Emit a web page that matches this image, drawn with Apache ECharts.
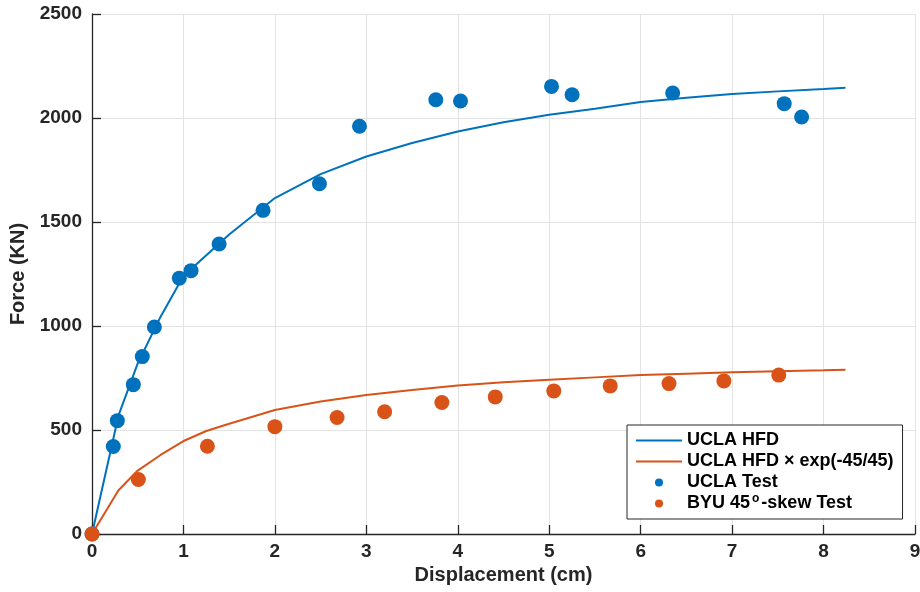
<!DOCTYPE html>
<html>
<head>
<meta charset="utf-8">
<script src="https://cdn.jsdelivr.net/npm/echarts@6/dist/echarts.min.js"></script>
<style>
  html, body { margin: 0; padding: 0; background: #fff; }
  #chart { width: 920px; height: 592px; }
</style>
</head>
<body>
<div id="chart"></div>
<script>
// Hyperbolic force-displacement curves (sampled displacements, cm)
const hfdDisp = [0, 0.29, 0.5, 0.75, 1, 1.25, 1.5, 2, 2.5, 3, 3.5, 4, 4.5, 5, 5.5, 6, 6.5, 7, 7.5, 8, 8.24];
const hfdForce = [0, 570, 820, 1045, 1240, 1340, 1440, 1615, 1730, 1815, 1880, 1935, 1980, 2016, 2045, 2077, 2097, 2115, 2128, 2139, 2145];
const hfdSkewForce = [0, 210, 305, 380, 447, 495, 530, 596, 637, 668, 692, 714, 729, 742, 753, 764, 771, 778, 783, 787, 790];

// UCLA test measurements
const uclaTestDisp = [0, 0.233, 0.277, 0.452, 0.55, 0.682, 0.955, 1.083, 1.39, 1.871, 2.487, 2.925, 3.76, 4.03, 5.025, 5.25, 6.35, 7.57, 7.76];
const uclaTestForce = [0, 421, 545, 718, 853, 995, 1230, 1266, 1394, 1556, 1684, 1960, 2088, 2082, 2152, 2112, 2120, 2069, 2005];

// BYU 45-degree skew test measurements
const byuTestDisp = [0, 0.507, 1.262, 2.0, 2.68, 3.2, 3.826, 4.41, 5.05, 5.667, 6.31, 6.91, 7.51];
const byuTestForce = [0, 262, 422, 516, 560, 588, 632, 659, 688, 712, 723, 736, 764];

// Axis ticks
const xTicks = [0, 1, 2, 3, 4, 5, 6, 7, 8, 9];
const yTicks = [0, 500, 1000, 1500, 2000, 2500];

const seriesNames = ['UCLA HFD', 'UCLA HFD \u00d7 exp(-45/45)', 'UCLA Test', 'BYU 45\u00b0-skew Test'];

const pairs = (xs, ys) => xs.map((x, i) => [x, ys[i]]);

const BLUE = '#0072BD';
const ORANGE = '#D95319';
const AXIS = '#262626';
const FONT = '"Liberation Sans", Arial, Helvetica, sans-serif';

const chart = echarts.init(document.getElementById('chart'), null, { renderer: 'canvas' });

chart.setOption({
  animation: false,
  backgroundColor: '#ffffff',
  textStyle: { fontFamily: FONT },
  grid: { left: 92, right: 5, top: 14, bottom: 58, containLabel: false, outerBoundsMode: 'none' },
  xAxis: {
    type: 'value',
    min: xTicks[0],
    max: xTicks[xTicks.length - 1],
    interval: xTicks[1] - xTicks[0],
    name: 'Displacement (cm)',
    nameLocation: 'middle',
    nameGap: 29,
    nameTextStyle: { color: AXIS, fontWeight: 'bold', fontSize: 20, fontFamily: FONT },
    axisLine: { show: true, onZero: false, lineStyle: { color: AXIS, width: 1.3 } },
    axisTick: { show: true, inside: true, length: 9, lineStyle: { color: AXIS, width: 1.3 } },
    axisLabel: { color: AXIS, fontWeight: 'bold', fontSize: 19, margin: 8, fontFamily: FONT, formatter: (v) => String(v) },
    splitLine: { show: true, lineStyle: { color: '#e3e3e3', width: 1 } }
  },
  yAxis: {
    type: 'value',
    min: yTicks[0],
    max: yTicks[yTicks.length - 1],
    interval: yTicks[1] - yTicks[0],
    name: 'Force (KN)',
    nameLocation: 'middle',
    nameGap: 60,
    nameTextStyle: { color: AXIS, fontWeight: 'bold', fontSize: 20, fontFamily: FONT },
    axisLine: { show: true, onZero: false, lineStyle: { color: AXIS, width: 1.3 } },
    axisTick: { show: true, inside: true, length: 9, lineStyle: { color: AXIS, width: 1.3 } },
    axisLabel: { color: AXIS, fontWeight: 'bold', fontSize: 19, margin: 10, fontFamily: FONT, formatter: (v) => String(v) },
    splitLine: { show: true, lineStyle: { color: '#e3e3e3', width: 1 } }
  },
  legend: {
    orient: 'vertical',
    left: 627,
    top: 425,
    padding: [5, 9, 5, 9],
    itemGap: 0,
    itemWidth: 46,
    itemHeight: 8,
    itemTextGap: 5,
    backgroundColor: '#ffffff',
    borderColor: AXIS,
    borderWidth: 1,
    borderRadius: 0,
    formatter: (name) => name === seriesNames[3] ? 'BYU 45{sup|o}-skew Test' : name,
    textStyle: {
      color: '#000000',
      fontWeight: 'bold',
      fontSize: 18,
      lineHeight: 21,
      fontFamily: FONT,
      rich: {
        sup: { fontSize: 12, fontWeight: 'bold', color: '#000000', verticalAlign: 'top', padding: [0, 2, 12, 2], fontFamily: FONT }
      }
    },
    data: [
      { name: seriesNames[0], icon: 'path://M0,0H46V2H0Z', itemStyle: { color: BLUE } },
      { name: seriesNames[1], icon: 'path://M0,0H46V2H0Z', itemStyle: { color: ORANGE } },
      { name: seriesNames[2], icon: 'circle', itemStyle: { color: BLUE } },
      { name: seriesNames[3], icon: 'circle', itemStyle: { color: ORANGE } }
    ]
  },
  series: [
    {
      name: seriesNames[0],
      type: 'line',
      data: pairs(hfdDisp, hfdForce),
      showSymbol: false,
      symbol: 'none',
      smooth: false,
      lineStyle: { color: BLUE, width: 2 },
      itemStyle: { color: BLUE },
      z: 2
    },
    {
      name: seriesNames[1],
      type: 'line',
      data: pairs(hfdDisp, hfdSkewForce),
      showSymbol: false,
      symbol: 'none',
      smooth: false,
      lineStyle: { color: ORANGE, width: 2 },
      itemStyle: { color: ORANGE },
      z: 2
    },
    {
      name: seriesNames[2],
      type: 'scatter',
      data: pairs(uclaTestDisp, uclaTestForce),
      symbol: 'circle',
      symbolSize: 15,
      itemStyle: { color: BLUE, opacity: 1 },
      z: 3
    },
    {
      name: seriesNames[3],
      type: 'scatter',
      data: pairs(byuTestDisp, byuTestForce),
      symbol: 'circle',
      symbolSize: 15,
      itemStyle: { color: ORANGE, opacity: 1 },
      z: 3
    }
  ]
});
</script>
</body>
</html>
